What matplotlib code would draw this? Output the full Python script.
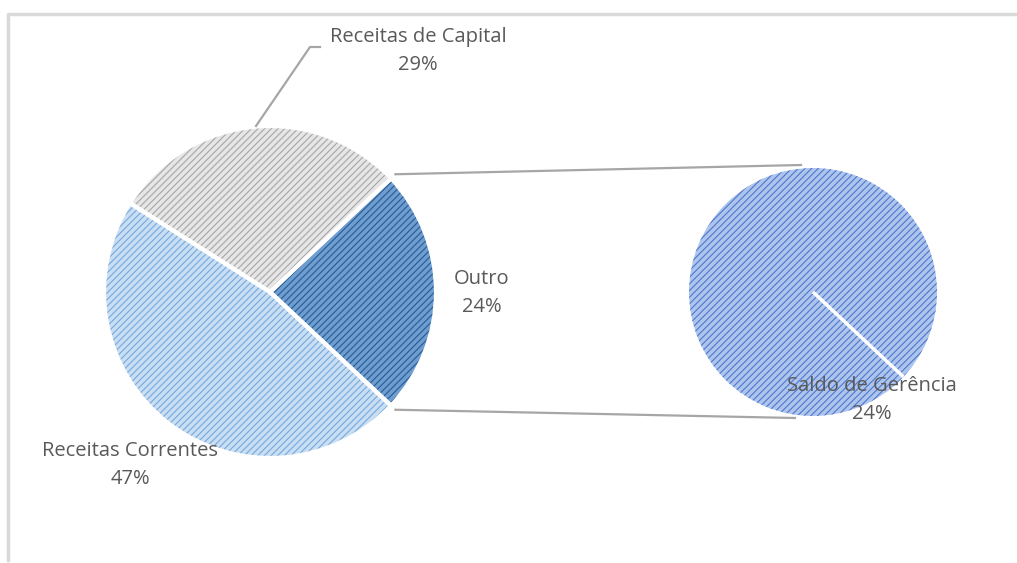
import matplotlib.pyplot as plt
import matplotlib
import numpy as np

matplotlib.rcParams['hatch.linewidth'] = 0.8

# main pie
labels = ["Receitas Correntes", "Receitas de Capital", "Outro"]
values = [47, 29, 24]
fills = ["#c9def3", "#e6e6e6", "#6f9dcf"]
hatches = ["#74a9dd", "#a6a6a6", "#245b94"]

# secondary pie (breakdown of "Outro")
sub_labels = ["Saldo de Gerência"]
sub_values = [24]
sub_fill = "#aec4ec"
sub_hatch = "#4a78cc"

W, H = 1017, 563
fig = plt.figure(figsize=(W / 100, H / 100), dpi=100)
ax = fig.add_axes([0, 0, 1, 1])

c1, r1 = (270, 271), 166
c2, r2 = (813, 271), 124
start = -values[2] / 100 * 360 / 2

# fill + hatch, then white separators on top
w1, _ = ax.pie(values, center=c1, radius=r1, startangle=start, counterclock=False,
               colors=fills, wedgeprops=dict(linewidth=0))
for w, hc in zip(w1, hatches):
    w.set_hatch('/////')
    w.set_edgecolor(hc)
ax.pie(values, center=c1, radius=r1, startangle=start, counterclock=False,
       colors=['none'] * 3, wedgeprops=dict(linewidth=3, edgecolor='white'))

w2, _ = ax.pie(sub_values, center=c2, radius=r2, startangle=start, counterclock=False,
               colors=[sub_fill], wedgeprops=dict(linewidth=0))
w2[0].set_hatch('/////')
w2[0].set_edgecolor(sub_hatch)

ax.set_xlim(0, W)
ax.set_ylim(0, H)
ax.set_aspect('equal')
ax.axis('off')

a = np.deg2rad(start)
ax.plot([c2[0], c2[0] + r2 * np.cos(a)], [c2[1], c2[1] + r2 * np.sin(a)],
        color='white', lw=2.5, solid_capstyle='butt')

# connector lines between the "Outro" slice and secondary pie
a_top = np.deg2rad(-start)
ax.plot([c1[0] + (r1 + 6) * np.cos(a_top), c2[0] - 12], [c1[1] + (r1 + 6) * np.sin(a_top), c2[1] + r2 + 3],
        color='#a6a6a6', lw=1.6)
ax.plot([c1[0] + (r1 + 6) * np.cos(a), c2[0] - 18], [c1[1] + (r1 + 6) * np.sin(a), c2[1] - r2 - 2],
        color='#a6a6a6', lw=1.6)

# leader line for Receitas de Capital
ax.plot([256, 310, 320], [H - 126, H - 47, H - 47], color='#a6a6a6', lw=1.6)

# chart frame
ax.plot([8, 8, W], [3, H - 14, H - 14], color='#d9d9d9', lw=2.5)

tc = '#595959'
font = dict(family='Open Sans', fontsize=14.5, color=tc, ha='center', va='center', linespacing=1.55)
label_pos = [(130, 465), (418, 51), (482, 293)]
for (x, y), lab, v in zip(label_pos, labels, values):
    ax.text(x, H - y, f"{lab}\n{v}%", **font)
ax.text(872, H - 400, f"{sub_labels[0]}\n{sub_values[0]}%", **font)

fig.savefig("out.png", dpi=100)
